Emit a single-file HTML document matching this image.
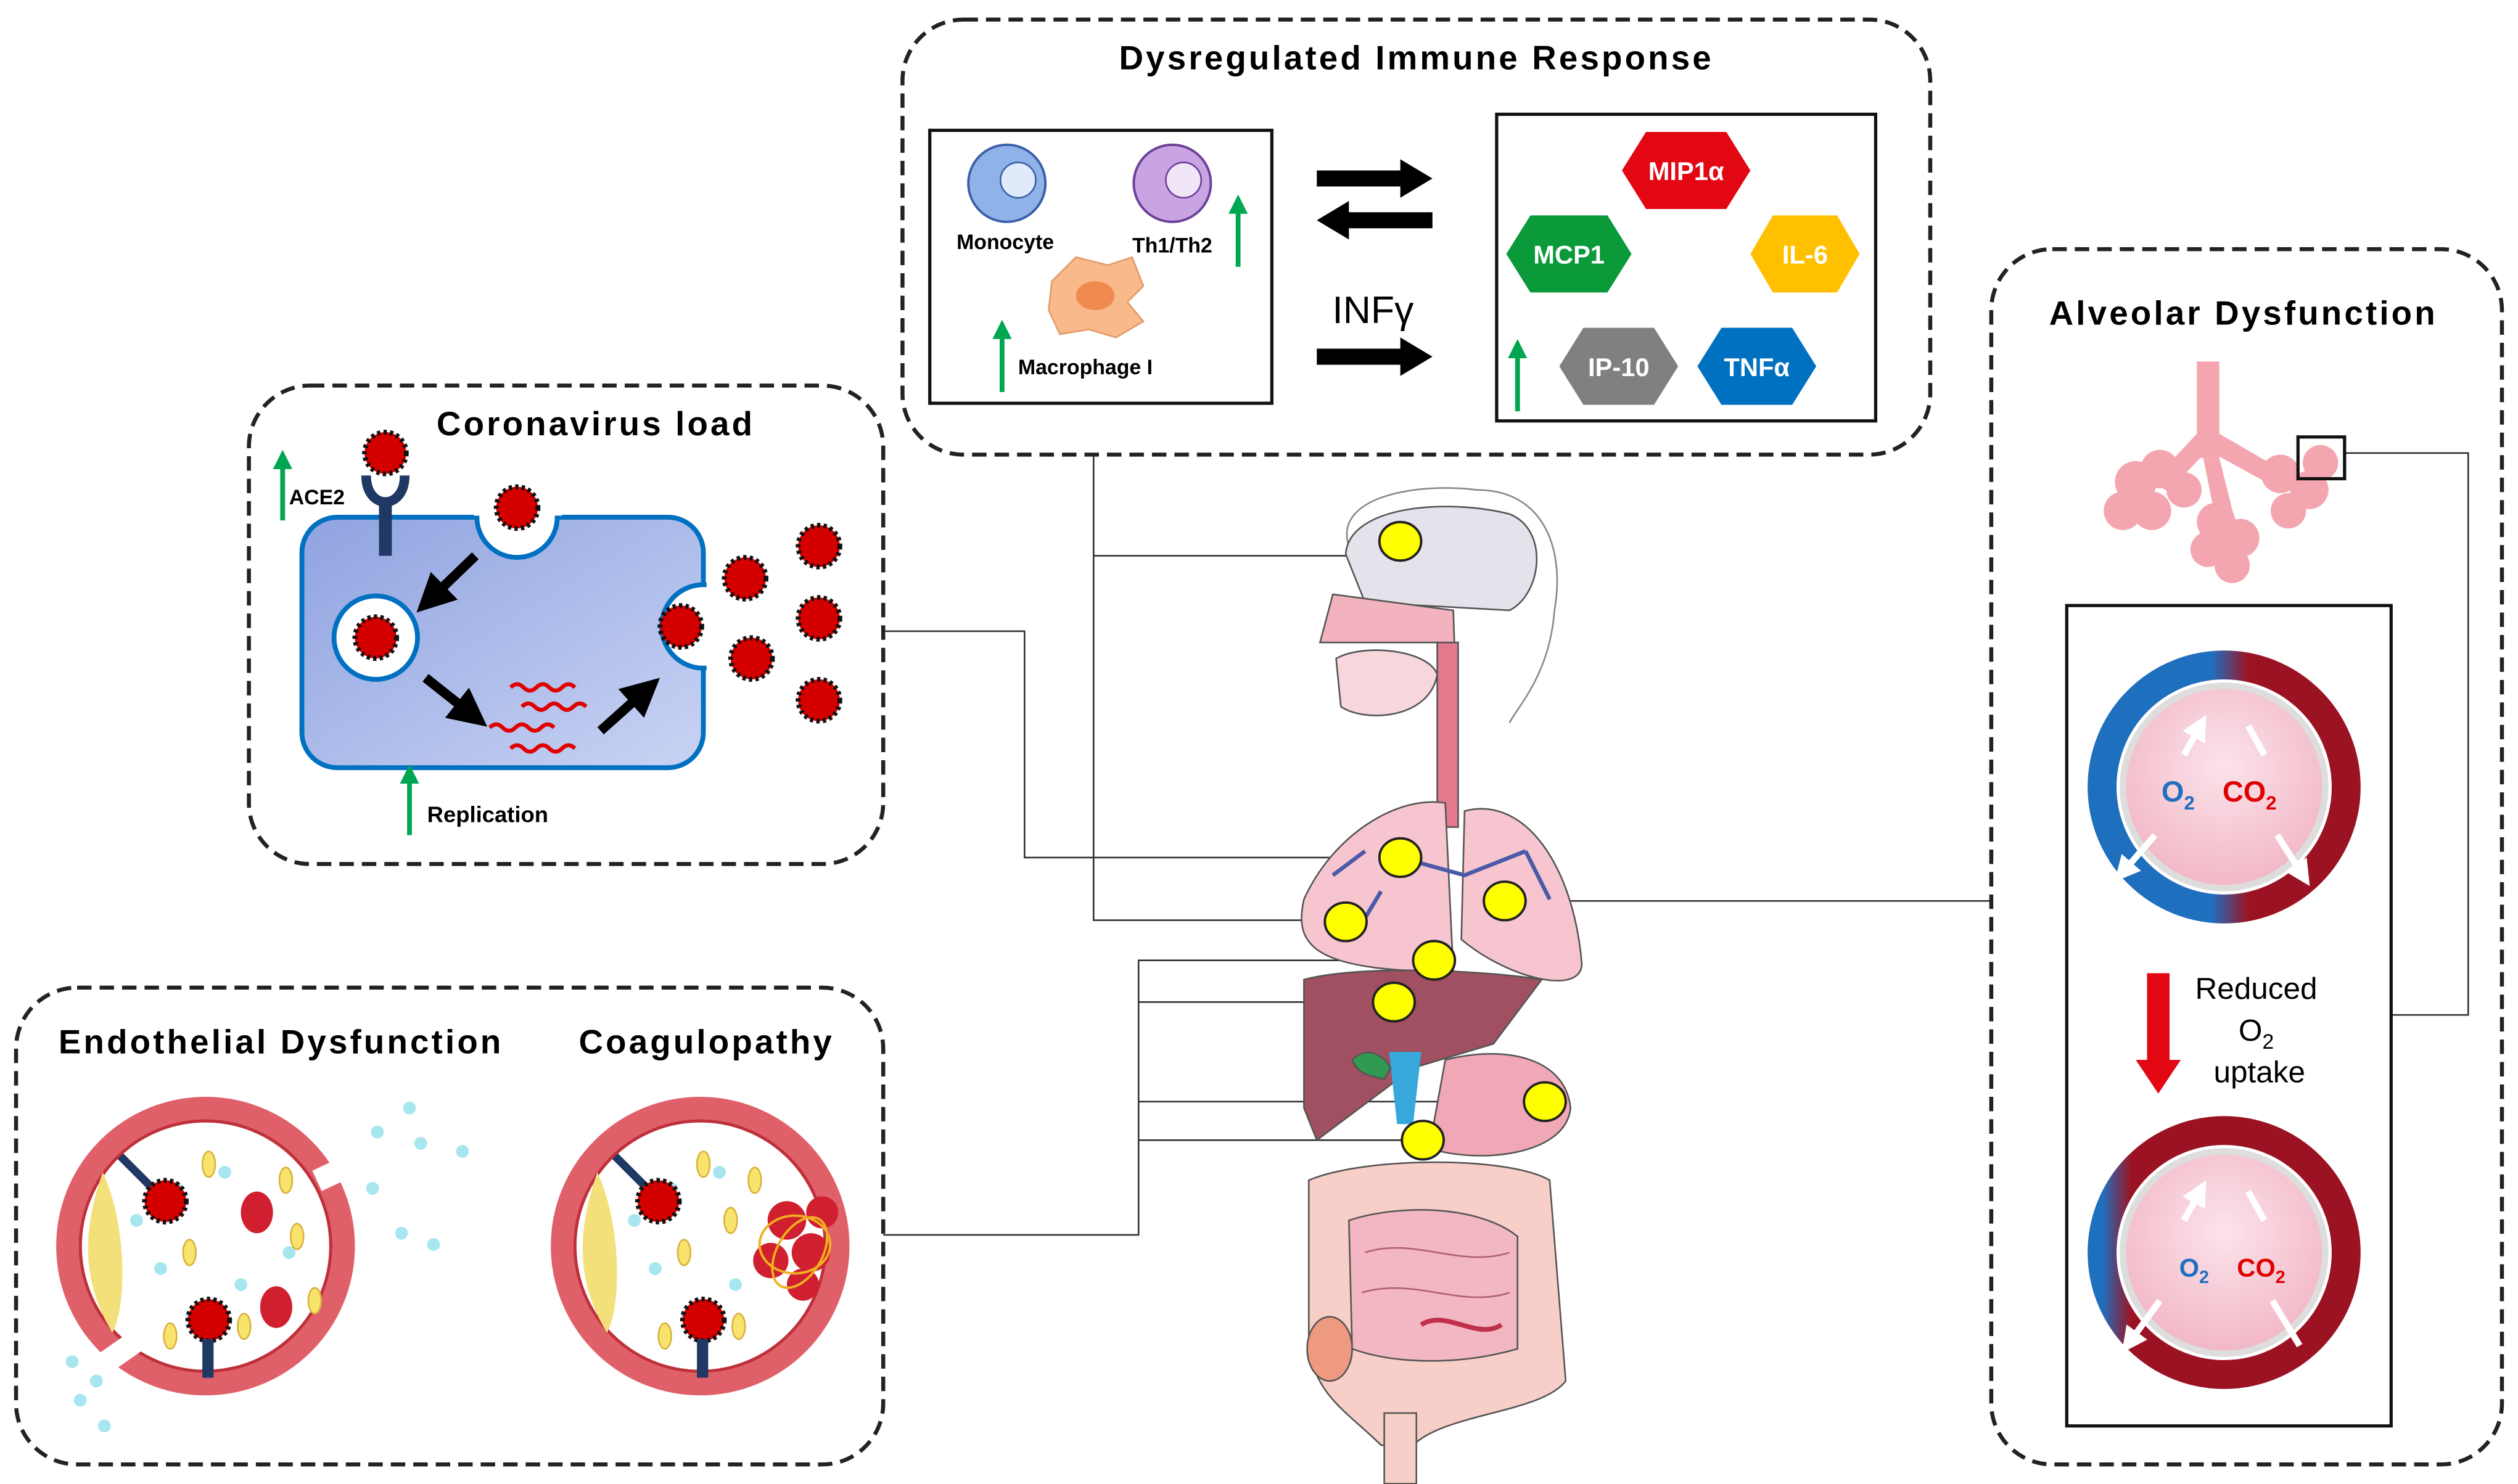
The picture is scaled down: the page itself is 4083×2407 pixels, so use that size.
<!DOCTYPE html>
<html><head><meta charset="utf-8"><style>
html,body{margin:0;padding:0;background:#fff;}
svg{display:block;}
text{font-family:"Liberation Sans",sans-serif;}
.t{letter-spacing:1.6px;}
</style></head><body>
<svg width="4083" height="2407" viewBox="0 0 1568 924" xmlns="http://www.w3.org/2000/svg">
<defs>
<linearGradient id="cell" x1="0" y1="0" x2="1" y2="1"><stop offset="0" stop-color="#8fa3e0"/><stop offset="1" stop-color="#c9d3f3"/></linearGradient>
<radialGradient id="alv" cx="0.5" cy="0.4" r="0.6"><stop offset="0" stop-color="#fbe3ea"/><stop offset="1" stop-color="#f2b7c6"/></radialGradient>
<linearGradient id="ring1" x1="0" y1="0" x2="1" y2="0"><stop offset="0.45" stop-color="#1f6fbf"/><stop offset="0.6" stop-color="#9b1322"/></linearGradient>
<linearGradient id="ring2" x1="0" y1="0" x2="1" y2="0"><stop offset="0" stop-color="#1f6fbf"/><stop offset="0.12" stop-color="#9b1322"/></linearGradient>
<g id="virus"><circle r="13" fill="#d40000" stroke="#111" stroke-width="3" stroke-dasharray="2 2"/><circle r="11" fill="#d40000"/></g>
<marker id="ah" markerWidth="4" markerHeight="4" refX="2" refY="2" orient="auto"><path d="M0,0L4,2L0,4z" fill="#000"/></marker>
<marker id="wh" markerWidth="4" markerHeight="4" refX="2" refY="2" orient="auto"><path d="M0,0L4,2L0,4z" fill="#fff"/></marker>
<marker id="gh" markerWidth="4" markerHeight="4" refX="2" refY="2" orient="auto"><path d="M0,0L4,2L0,4z" fill="#00a651"/></marker>
</defs>

<!-- connectors -->
<g stroke="#333" stroke-width="1" fill="none">
<polyline points="681,283 681,573 835,573"/>
<line x1="681" y1="346" x2="860" y2="346"/>
<polyline points="550,393 638,393 638,534 870,534"/>
<polyline points="550,769 709,769 709,598 893,598"/>
<line x1="709" y1="624" x2="868" y2="624"/>
<line x1="709" y1="686" x2="962" y2="686"/>
<line x1="709" y1="710" x2="886" y2="710"/>
<line x1="937" y1="561" x2="1240" y2="561"/>
<polyline points="1460,282 1537,282 1537,632 1489,632"/>
</g>

<!-- body -->
<g stroke="#555" stroke-width="1">
<path d="M840,340 C830,310 880,300 920,305 C960,305 975,340 968,380 C965,420 945,440 940,450" fill="none" stroke="#888"/>
<path d="M838,345 C840,315 900,310 940,320 C965,330 960,370 940,380 L850,375 Z" fill="#e6e2ec"/>
<path d="M822,400 L830,370 L905,380 L908,470 L898,470 L895,400 Z" fill="#f2b3bf"/>
<path d="M832,410 C850,400 890,405 895,420 C890,448 850,450 835,440 Z" fill="#f7d6dc"/>
<rect x="895" y="400" width="13" height="115" fill="#e4788d"/>
<path d="M900,500 C870,495 830,520 812,560 C805,590 820,605 905,605 Z" fill="#f6c5d0"/>
<path d="M912,505 C950,495 980,540 985,600 C985,620 940,610 910,585 Z" fill="#f6c5d0"/>
<g stroke="#4a5aa8" stroke-width="2.5" fill="none"><path d="M872,534 L912,545 L950,530"/><path d="M850,530 L830,545"/><path d="M950,530 L965,560"/><path d="M860,555 L845,580"/></g>
<path d="M812,610 C850,600 930,605 960,610 L930,650 L880,665 L820,710 L812,690 Z" fill="#a05060"/>
<path d="M900,660 C940,650 975,660 978,690 C975,720 920,725 890,715 Z" fill="#f0a8b6"/>
<path d="M865,655 L870,700 L880,700 L885,655 Z" fill="#38a8dc" stroke="none"/>
<path d="M842,660 C850,652 860,655 866,665 L862,672 C855,670 846,670 842,660 Z" fill="#2f9a50"/>
<path d="M815,735 C850,720 940,720 965,735 L975,860 C960,880 900,880 880,900 L860,900 C840,880 820,870 815,840 Z" fill="#f8cfc8"/>
<path d="M840,760 C870,750 920,750 945,770 L945,840 C910,850 870,850 842,840 Z" fill="#f2b7c2"/>
<g stroke="#b06070" fill="none"><path d="M850,780 C880,770 910,790 940,780"/><path d="M848,805 C880,795 910,815 940,805"/><path d="M885,825 C900,815 920,835 935,825" stroke="#c0304a" stroke-width="3"/></g>
<rect x="862" y="880" width="20" height="44" fill="#f8cfc8"/>
<ellipse cx="828" cy="840" rx="14" ry="20" fill="#ee9a80"/>
</g>
<g fill="#ffff00" stroke="#222" stroke-width="1.5">
<ellipse cx="872" cy="337" rx="13" ry="12"/><ellipse cx="872" cy="534" rx="13" ry="12"/>
<ellipse cx="937" cy="561" rx="13" ry="12"/><ellipse cx="838" cy="574" rx="13" ry="12"/>
<ellipse cx="893" cy="598" rx="13" ry="12"/><ellipse cx="868" cy="624" rx="13" ry="12"/>
<ellipse cx="962" cy="686" rx="13" ry="12"/><ellipse cx="886" cy="710" rx="13" ry="12"/>
</g>

<!-- immune box -->
<rect x="562" y="12" width="640" height="271" rx="38" fill="none" stroke="#222" stroke-width="2.5" stroke-dasharray="9 5"/>
<text class="t" x="882" y="43" font-size="21" font-weight="bold" text-anchor="middle">Dysregulated Immune Response</text>
<rect x="579" y="81" width="213" height="170" fill="#fff" stroke="#111" stroke-width="2"/>
<rect x="932" y="71" width="236" height="191" fill="#fff" stroke="#111" stroke-width="2"/>
<circle cx="627" cy="114" r="24" fill="#8fb3e8" stroke="#3a5fa8" stroke-width="1.5"/><circle cx="634" cy="112" r="11" fill="#dfeafb" stroke="#3a5fa8"/>
<text x="626" y="155" font-size="13" font-weight="bold" text-anchor="middle">Monocyte</text>
<circle cx="730" cy="114" r="24" fill="#c9a4e3" stroke="#6a3f99" stroke-width="1.5"/><circle cx="737" cy="112" r="11" fill="#f1e6f8" stroke="#6a3f99"/>
<text x="730" y="157" font-size="13" font-weight="bold" text-anchor="middle">Th1/Th2</text>
<path d="M655,175 L670,160 L690,165 L705,160 L712,178 L702,188 L712,200 L695,210 L678,205 L660,208 L653,193 Z" fill="#f9b98b" stroke="#e39a6a"/>
<ellipse cx="682" cy="184" rx="12" ry="9" fill="#f08a4f"/>
<text x="634" y="233" font-size="13" font-weight="bold">Macrophage I</text>
<line x1="624" y1="244" x2="624" y2="205" stroke="#00a651" stroke-width="3" marker-end="url(#gh)"/>
<line x1="771" y1="166" x2="771" y2="127" stroke="#00a651" stroke-width="3" marker-end="url(#gh)"/>
<line x1="945" y1="256" x2="945" y2="217" stroke="#00a651" stroke-width="3" marker-end="url(#gh)"/>
<path d="M820,106 L872,106 L872,99 L892,111 L872,123 L872,116 L820,116 Z" fill="#000"/>
<path d="M892,132 L840,132 L840,125 L820,137 L840,149 L840,142 L892,142 Z" fill="#000"/>
<path d="M820,217 L872,217 L872,210 L892,222 L872,234 L872,227 L820,227 Z" fill="#000"/>
<text x="855" y="201" font-size="24" text-anchor="middle">INFγ</text>
<g font-size="16" font-weight="bold" fill="#fff" text-anchor="middle">
<polygon points="1025,82 1075,82 1090,106 1075,130 1025,130 1010,106" fill="#e30613"/><text x="1050" y="112">MIP1α</text>
<polygon points="953,134 1001,134 1016,158 1001,182 953,182 938,158" fill="#0a9a3a"/><text x="977" y="164">MCP1</text>
<polygon points="1104,134 1144,134 1158,158 1144,182 1104,182 1090,158" fill="#ffc000"/><text x="1124" y="164">IL-6</text>
<polygon points="986,204 1030,204 1045,228 1030,252 986,252 971,228" fill="#808080"/><text x="1008" y="234">IP-10</text>
<polygon points="1072,204 1116,204 1131,228 1116,252 1072,252 1057,228" fill="#0070c0"/><text x="1094" y="234">TNFα</text>
</g>

<!-- coronavirus box -->
<rect x="155" y="240" width="395" height="298" rx="38" fill="none" stroke="#222" stroke-width="2.5" stroke-dasharray="9 5"/>
<text class="t" x="371" y="271" font-size="21" font-weight="bold" text-anchor="middle">Coronavirus load</text>
<rect x="188" y="322" width="250" height="156" rx="22" fill="url(#cell)" stroke="#0070c0" stroke-width="3"/>
<circle cx="322" cy="322" r="25" fill="#fff" stroke="#0070c0" stroke-width="3"/><rect x="295" y="293" width="55" height="28" fill="#fff"/>
<circle cx="234" cy="397" r="26" fill="#fff" stroke="#0070c0" stroke-width="3"/>
<circle cx="438" cy="390" r="26" fill="#fff" stroke="#0070c0" stroke-width="3"/><rect x="440" y="360" width="30" height="60" fill="#fff"/>
<use href="#virus" x="322" y="316"/><use href="#virus" x="234" y="397"/><use href="#virus" x="424" y="390"/>
<use href="#virus" x="240" y="282"/>
<use href="#virus" x="464" y="360"/><use href="#virus" x="510" y="340"/><use href="#virus" x="510" y="385"/><use href="#virus" x="468" y="410"/><use href="#virus" x="510" y="436"/>
<path d="M228,296 C228,318 252,318 252,296" fill="none" stroke="#1f3864" stroke-width="6"/>
<rect x="236" y="310" width="8" height="36" fill="#1f3864"/>
<line x1="176" y1="324" x2="176" y2="286" stroke="#00a651" stroke-width="3" marker-end="url(#gh)"/>
<text x="180" y="314" font-size="13" font-weight="bold">ACE2</text>
<line x1="296" y1="346" x2="268" y2="373" stroke="#000" stroke-width="6" marker-end="url(#ah)"/>
<line x1="265" y1="422" x2="294" y2="445" stroke="#000" stroke-width="6" marker-end="url(#ah)"/>
<line x1="374" y1="455" x2="402" y2="430" stroke="#000" stroke-width="6" marker-end="url(#ah)"/>
<g stroke="#e00000" stroke-width="2.5" fill="none">
<path d="M318,428 q4,-4 8,0 t8,0 t8,0 t8,0 t8,0"/><path d="M325,440 q4,-4 8,0 t8,0 t8,0 t8,0 t8,0"/>
<path d="M305,453 q4,-4 8,0 t8,0 t8,0 t8,0 t8,0"/><path d="M318,466 q4,-4 8,0 t8,0 t8,0 t8,0 t8,0"/>
</g>
<line x1="255" y1="520" x2="255" y2="482" stroke="#00a651" stroke-width="3" marker-end="url(#gh)"/>
<text x="266" y="512" font-size="14" font-weight="bold">Replication</text>

<!-- endothelial box -->
<rect x="10" y="615" width="540" height="297" rx="38" fill="none" stroke="#222" stroke-width="2.5" stroke-dasharray="9 5"/>
<text class="t" x="175" y="656" font-size="21" font-weight="bold" text-anchor="middle">Endothelial Dysfunction</text>
<text class="t" x="440" y="656" font-size="21" font-weight="bold" text-anchor="middle">Coagulopathy</text>
<g>
<circle cx="128" cy="776" r="86" fill="#fff" stroke="#e0606a" stroke-width="14"/>
<circle cx="128" cy="776" r="78" fill="none" stroke="#c0303a" stroke-width="2"/>
<path d="M64,730 C50,770 52,800 70,830 C80,810 78,760 64,730 Z" fill="#f4e07a"/>
<rect x="196" y="722" width="30" height="14" fill="#fff" transform="rotate(-25 211 729)"/>
<rect x="60" y="835" width="30" height="14" fill="#fff" transform="rotate(-35 75 842)"/>
<g fill="#a8e6ef"><circle cx="110" cy="740" r="4"/><circle cx="140" cy="730" r="4"/><circle cx="100" cy="790" r="4"/><circle cx="150" cy="800" r="4"/><circle cx="120" cy="820" r="4"/><circle cx="235" cy="705" r="4"/><circle cx="255" cy="690" r="4"/><circle cx="262" cy="712" r="4"/><circle cx="288" cy="717" r="4"/><circle cx="232" cy="740" r="4"/><circle cx="250" cy="768" r="4"/><circle cx="270" cy="775" r="4"/><circle cx="45" cy="848" r="4"/><circle cx="60" cy="860" r="4"/><circle cx="50" cy="872" r="4"/><circle cx="65" cy="888" r="4"/><circle cx="85" cy="760" r="4"/><circle cx="180" cy="780" r="4"/></g>
<g fill="#f8e36c" stroke="#d9b23a"><ellipse cx="130" cy="725" rx="4" ry="8"/><ellipse cx="178" cy="735" rx="4" ry="8"/><ellipse cx="185" cy="770" rx="4" ry="8"/><ellipse cx="118" cy="780" rx="4" ry="8"/><ellipse cx="106" cy="832" rx="4" ry="8"/><ellipse cx="152" cy="826" rx="4" ry="8"/><ellipse cx="196" cy="810" rx="4" ry="8"/></g>
<g fill="#d02030"><ellipse cx="160" cy="755" rx="10" ry="13"/><ellipse cx="172" cy="814" rx="10" ry="13"/></g>
<line x1="75" y1="720" x2="100" y2="745" stroke="#1f3864" stroke-width="5"/>
<use href="#virus" x="103" y="748"/>
<use href="#virus" x="130" y="822"/><rect x="126" y="834" width="7" height="24" fill="#1f3864"/>
</g>
<g>
<circle cx="436" cy="776" r="86" fill="#fff" stroke="#e0606a" stroke-width="14"/>
<circle cx="436" cy="776" r="78" fill="none" stroke="#c0303a" stroke-width="2"/>
<path d="M372,730 C358,770 360,800 378,830 C388,810 386,760 372,730 Z" fill="#f4e07a"/>
<g fill="#a8e6ef"><circle cx="418" cy="740" r="4"/><circle cx="448" cy="730" r="4"/><circle cx="408" cy="790" r="4"/><circle cx="458" cy="800" r="4"/><circle cx="428" cy="820" r="4"/><circle cx="395" cy="760" r="4"/></g>
<g fill="#f8e36c" stroke="#d9b23a"><ellipse cx="438" cy="725" rx="4" ry="8"/><ellipse cx="470" cy="735" rx="4" ry="8"/><ellipse cx="426" cy="780" rx="4" ry="8"/><ellipse cx="414" cy="832" rx="4" ry="8"/><ellipse cx="460" cy="826" rx="4" ry="8"/><ellipse cx="455" cy="760" rx="4" ry="8"/></g>
<g fill="#d02030"><circle cx="490" cy="760" r="12"/><circle cx="505" cy="780" r="12"/><circle cx="480" cy="785" r="11"/><circle cx="500" cy="800" r="10"/><circle cx="512" cy="755" r="10"/></g>
<g fill="none" stroke="#f0b020" stroke-width="1.5"><ellipse cx="495" cy="775" rx="22" ry="18"/><ellipse cx="498" cy="780" rx="14" ry="24" transform="rotate(30 498 780)"/></g>
<line x1="383" y1="720" x2="408" y2="745" stroke="#1f3864" stroke-width="5"/>
<use href="#virus" x="410" y="748"/>
<use href="#virus" x="438" y="822"/><rect x="434" y="834" width="7" height="24" fill="#1f3864"/>
</g>

<!-- alveolar box -->
<rect x="1240" y="155" width="318" height="757" rx="38" fill="none" stroke="#222" stroke-width="2.5" stroke-dasharray="9 5"/>
<text class="t" x="1397" y="202" font-size="21" font-weight="bold" text-anchor="middle">Alveolar Dysfunction</text>
<g fill="#f4a6b0">
<rect x="1368" y="225" width="14" height="60"/>
<path d="M1368,270 L1340,300 L1350,306 L1375,280 Z"/><path d="M1382,270 L1425,295 L1420,305 L1378,282 Z"/>
<path d="M1372,285 L1380,325 L1392,325 L1382,285 Z"/>
<circle cx="1330" cy="300" r="13"/><circle cx="1345" cy="292" r="12"/><circle cx="1322" cy="318" r="12"/><circle cx="1340" cy="318" r="12"/><circle cx="1360" cy="305" r="11"/>
<circle cx="1380" cy="325" r="12"/><circle cx="1395" cy="335" r="12"/><circle cx="1375" cy="342" r="11"/><circle cx="1390" cy="352" r="11"/>
<circle cx="1420" cy="295" r="12"/><circle cx="1438" cy="305" r="12"/><circle cx="1425" cy="318" r="11"/><circle cx="1445" cy="288" r="11"/>
</g>
<rect x="1431" y="272" width="29" height="26" fill="none" stroke="#111" stroke-width="2"/>
<rect x="1287" y="377" width="202" height="511" fill="#fff" stroke="#111" stroke-width="2"/>
<circle cx="1385" cy="490" r="76" fill="none" stroke="url(#ring1)" stroke-width="18"/>
<circle cx="1385" cy="490" r="63" fill="url(#alv)" stroke="#ddd" stroke-width="4"/>
<text x="1346" y="499" font-size="18" font-weight="bold" fill="#1f6fbf">O<tspan font-size="12" dy="5">2</tspan></text>
<text x="1384" y="499" font-size="18" font-weight="bold" fill="#e00000">CO<tspan font-size="12" dy="5">2</tspan></text>
<g stroke="#fff" stroke-width="4">
<line x1="1360" y1="470" x2="1370" y2="452" marker-end="url(#wh)"/><line x1="1400" y1="452" x2="1410" y2="470"/>
<line x1="1342" y1="520" x2="1322" y2="543" marker-end="url(#wh)"/><line x1="1418" y1="520" x2="1434" y2="545" marker-end="url(#wh)"/>
</g>
<path d="M1337,606 L1351,606 L1351,660 L1358,660 L1344,681 L1330,660 L1337,660 Z" fill="#e30613"/>
<text x="1405" y="622" font-size="19" text-anchor="middle">Reduced</text>
<text x="1405" y="648" font-size="19" text-anchor="middle">O<tspan font-size="13" dy="5">2</tspan></text>
<text x="1407" y="674" font-size="19" text-anchor="middle">uptake</text>
<circle cx="1385" cy="780" r="76" fill="none" stroke="url(#ring2)" stroke-width="18"/>
<circle cx="1385" cy="780" r="63" fill="url(#alv)" stroke="#ddd" stroke-width="4"/>
<text x="1357" y="795" font-size="16" font-weight="bold" fill="#1f6fbf">O<tspan font-size="11" dy="4">2</tspan></text>
<text x="1393" y="795" font-size="16" font-weight="bold" fill="#e00000">CO<tspan font-size="11" dy="4">2</tspan></text>
<g stroke="#fff" stroke-width="4">
<line x1="1360" y1="760" x2="1370" y2="742" marker-end="url(#wh)"/><line x1="1400" y1="742" x2="1410" y2="760"/>
<line x1="1345" y1="810" x2="1326" y2="836" marker-end="url(#wh)"/><line x1="1415" y1="810" x2="1432" y2="838"/>
</g>
</svg>
</body></html>
